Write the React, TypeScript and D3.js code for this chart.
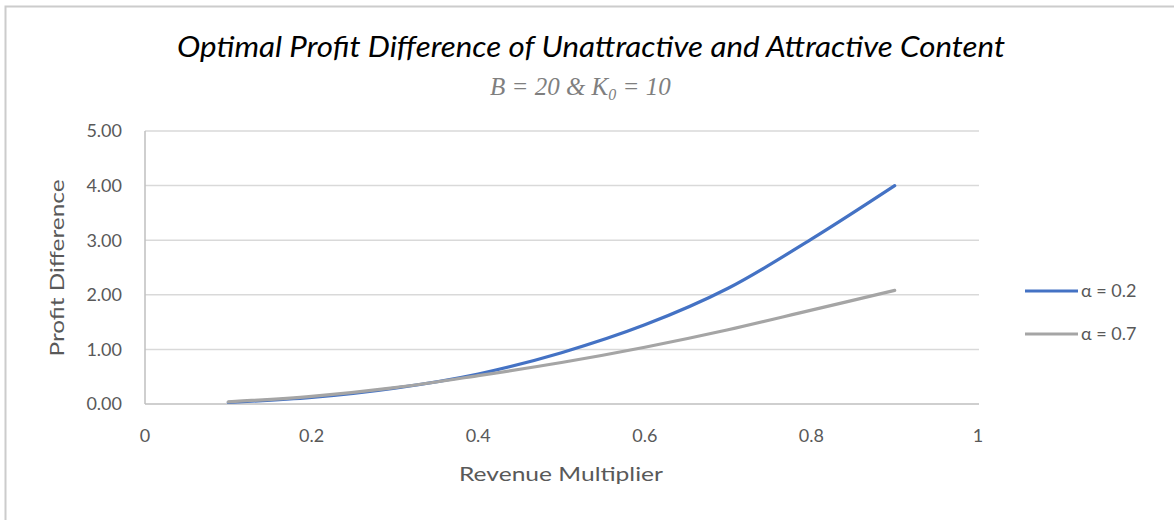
import { useEffect, useRef } from "react";
import * as d3 from "d3";

const xValues = [0.1, 0.2, 0.3, 0.4, 0.5, 0.6, 0.7, 0.8, 0.9];
const alpha02 = [0.03, 0.12, 0.29, 0.55, 0.94, 1.45, 2.12, 3.02, 4.0];
const alpha07 = [0.04, 0.14, 0.3, 0.52, 0.76, 1.04, 1.36, 1.72, 2.08];
const seriesNames = ["α = 0.2", "α = 0.7"];
const seriesColors = ["#4472c4", "#a5a5a5"];
const xTicks = [0, 0.2, 0.4, 0.6, 0.8, 1];
const yTicks = [0, 1, 2, 3, 4, 5];

const W = 1174;
const H = 520;
const font = "Lato, 'Open Sans', sans-serif";

export default function App() {
  const svgRef = useRef<SVGSVGElement>(null);

  useEffect(() => {
    document.body.style.margin = "0";
    const svg = d3.select(svgRef.current);
    svg.selectAll("*").remove();

    const x = d3.scaleLinear().domain([0, 1]).range([145, 978]);
    const y = d3.scaleLinear().domain([0, 5]).range([404, 131]);

    // chart frame: only the top and left edges are inside the picture
    svg.append("path")
      .attr("d", `M5.5,${H} V6.5 H${W}`)
      .attr("fill", "none")
      .attr("stroke", "#cccccc")
      .attr("stroke-width", 2);

    // gridlines
    svg.append("g")
      .selectAll("line")
      .data(yTicks.slice(1))
      .join("line")
      .attr("x1", x(0)).attr("x2", x(1) + 1)
      .attr("y1", (d) => y(d)).attr("y2", (d) => y(d))
      .attr("stroke", "#d9d9d9")
      .attr("stroke-width", 1.5);

    // axis lines
    svg.append("line")
      .attr("x1", x(0)).attr("x2", x(1) + 1)
      .attr("y1", y(0)).attr("y2", y(0))
      .attr("stroke", "#bfbfbf").attr("stroke-width", 1.5);
    svg.append("line")
      .attr("x1", x(0)).attr("x2", x(0))
      .attr("y1", y(5)).attr("y2", y(0))
      .attr("stroke", "#bfbfbf").attr("stroke-width", 1.5);

    // y tick labels
    svg.append("g")
      .selectAll("text")
      .data(yTicks)
      .join("text")
      .attr("x", 122)
      .attr("y", (d) => y(d))
      .attr("dy", "0.35em")
      .attr("text-anchor", "end")
      .attr("font-family", font)
      .attr("font-size", 18)
      .attr("fill", "#595959")
      .text((d) => d3.format(".2f")(d));

    // x tick labels
    svg.append("g")
      .selectAll("text")
      .data(xTicks)
      .join("text")
      .attr("x", (d) => x(d))
      .attr("y", 442)
      .attr("text-anchor", "middle")
      .attr("font-family", font)
      .attr("font-size", 18)
      .attr("fill", "#595959")
      .text((d) => String(d));

    // series (gray drawn last, it sits on top at the low end)
    const line = d3.line<number>()
      .x((_, i) => x(xValues[i]))
      .y((d) => y(d))
      .curve(d3.curveCatmullRom);

    [alpha02, alpha07].forEach((s, i) => {
      svg.append("path")
        .datum(s)
        .attr("fill", "none")
        .attr("stroke", seriesColors[i])
        .attr("stroke-width", 3.2)
        .attr("stroke-linecap", "round")
        .attr("d", line);
    });

    // legend
    seriesNames.forEach((name, i) => {
      const ly = 291 + i * 43;
      svg.append("line")
        .attr("x1", 1025).attr("x2", 1078)
        .attr("y1", ly).attr("y2", ly)
        .attr("stroke", seriesColors[i])
        .attr("stroke-width", 3.2);
      svg.append("text")
        .attr("x", 1081).attr("y", ly)
        .attr("dy", "0.35em")
        .attr("font-family", font)
        .attr("font-size", 18)
        .attr("fill", "#595959")
        .text(name);
    });

    // axis titles
    svg.append("text")
      .attr("x", 561).attr("y", 481)
      .attr("text-anchor", "middle")
      .attr("font-family", font)
      .attr("font-size", 20)
      .attr("fill", "#595959")
      .attr("textLength", 204)
      .attr("lengthAdjust", "spacingAndGlyphs")
      .text("Revenue Multiplier");

    svg.append("text")
      .attr("transform", "translate(64,268) rotate(-90)")
      .attr("text-anchor", "middle")
      .attr("font-family", font)
      .attr("font-size", 20)
      .attr("fill", "#595959")
      .attr("textLength", 177)
      .attr("lengthAdjust", "spacingAndGlyphs")
      .text("Profit Difference");

    // title
    svg.append("text")
      .attr("x", 591).attr("y", 57)
      .attr("text-anchor", "middle")
      .attr("font-family", font)
      .attr("font-style", "italic")
      .attr("font-size", 28)
      .attr("fill", "#000")
      .attr("textLength", 828)
      .attr("lengthAdjust", "spacingAndGlyphs")
      .text("Optimal Profit Difference of Unattractive and Attractive Content");

    const sub = svg.append("text")
      .attr("x", 490).attr("y", 95)
      .attr("font-family", "'Liberation Serif', 'DejaVu Serif', serif")
      .attr("font-style", "italic")
      .attr("font-size", 25)
      .attr("fill", "#7f7f7f");
    sub.append("tspan").text("B = 20 & K");
    sub.append("tspan").attr("font-size", 16).attr("dy", 5).text("0");
    sub.append("tspan").attr("dy", -5).text(" = 10");
  }, []);

  return <svg ref={svgRef} width={W} height={H} style={{ display: "block" }} />;
}
